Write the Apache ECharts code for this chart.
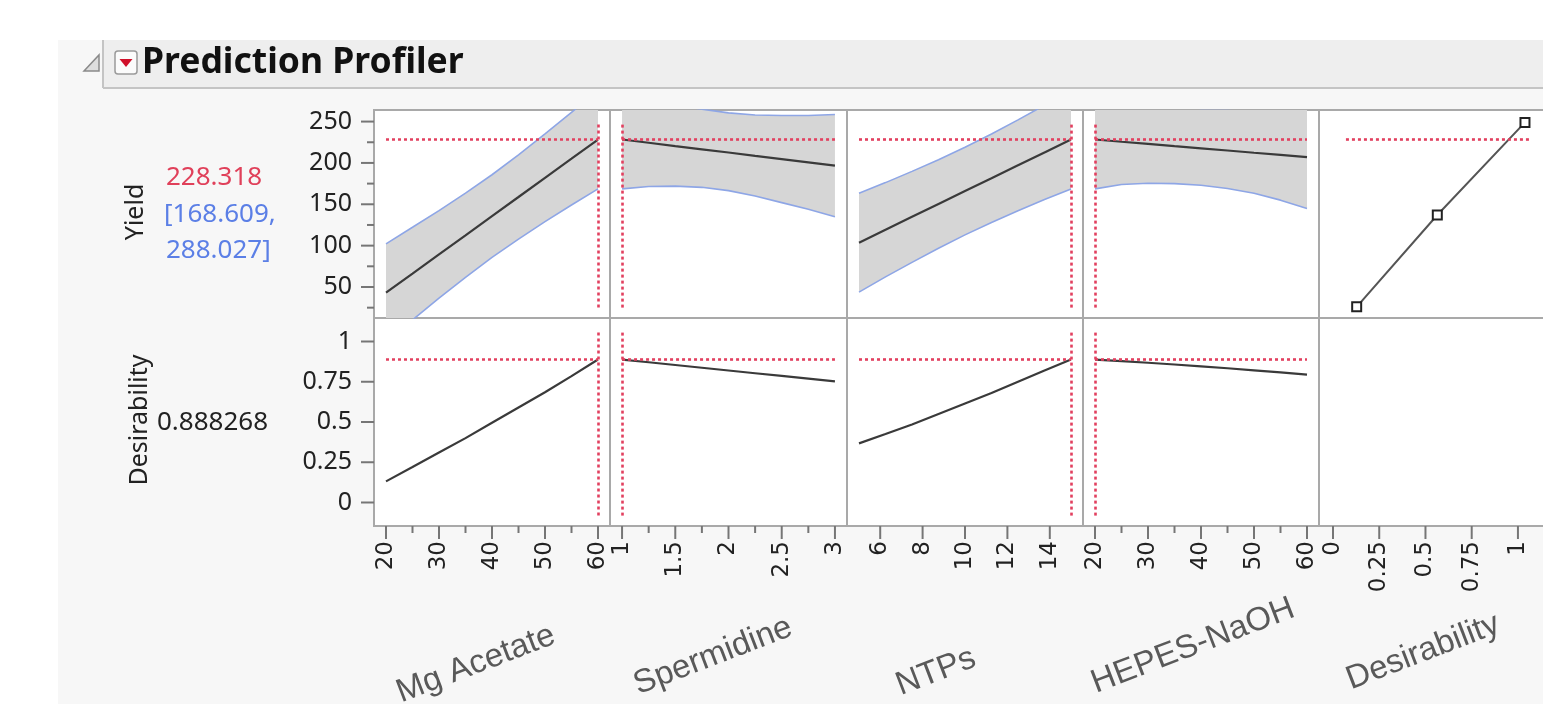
<!DOCTYPE html>
<html>
<head>
<meta charset="utf-8">
<script src="https://cdn.jsdelivr.net/npm/echarts@6/dist/echarts.min.js"></script>
<style>
html, body { margin: 0; padding: 0; background: #fff; overflow: hidden; }
#bg { position: absolute; left: 58px; top: 40px; width: 1485px; height: 664px; background: #f7f7f7; }
#chart { position: absolute; left: 0; top: 0; width: 1570px; height: 704px; }
</style>
</head>
<body>
<div id="bg"></div>
<div id="chart"></div>
<script>
// current point of the profiler
const curYield = 228.318
const curLow = 168.609
const curHigh = 288.027
const curDesir = 0.888268

// Mg Acetate
const mgX = [20, 25, 30, 35, 40, 45, 50, 55, 60]
const mgYield = [43.1, 66.2, 89.4, 112.5, 135.7, 158.8, 182.0, 205.1, 228.3]
const mgLower = [-15.9, 10.2, 36.4, 61.5, 85.7, 107.8, 129.0, 149.1, 168.6]
const mgUpper = [102.1, 122.2, 142.4, 163.5, 185.7, 209.8, 235.0, 261.1, 288.0]
const mgDesir = [0.131, 0.22, 0.31, 0.40, 0.495, 0.59, 0.685, 0.785, 0.888]
const mgTicks = [20, 30, 40, 50, 60]
const mgMinor = [25, 35, 45, 55]

// Spermidine
const spX = [1, 1.25, 1.5, 1.75, 2, 2.25, 2.5, 2.75, 3]
const spYield = [228.3, 224.4, 220.4, 216.5, 212.6, 208.6, 204.7, 200.7, 196.8]
const spLower = [168.6, 171.5, 172, 170.5, 166.5, 160, 152, 144, 135]
const spUpper = [288.0, 277.3, 270.0, 265.0, 260.5, 258.0, 257.4, 257.4, 258.6]
const spDesir = [0.888, 0.871, 0.854, 0.837, 0.820, 0.803, 0.786, 0.769, 0.752]
const spTicks = [1, 1.5, 2, 2.5, 3]
const spMinor = [1.25, 1.75, 2.25, 2.75]

// NTPs
const ntX = [5, 6.25, 7.5, 8.75, 10, 11.25, 12.5, 13.75, 15]
const ntYield = [103.6, 119.2, 134.8, 150.4, 166.0, 181.5, 197.1, 212.7, 228.3]
const ntLower = [43.8, 62.2, 79.8, 96.9, 113.0, 128.0, 142.1, 155.7, 168.6]
const ntUpper = [163.4, 176.2, 189.8, 203.9, 219.0, 235.0, 252.1, 269.7, 288.0]
const ntDesir = [0.367, 0.425, 0.485, 0.55, 0.615, 0.68, 0.75, 0.82, 0.888]
const ntTicks = [6, 8, 10, 12, 14]
const ntMinor = []

// HEPES-NaOH
const hpX = [20, 25, 30, 35, 40, 45, 50, 55, 60]
const hpYield = [228.3, 225.6, 223.0, 220.3, 217.7, 215.0, 212.3, 209.7, 207.0]
const hpLower = [168.6, 174, 175.5, 175, 173, 169, 163.4, 155, 145]
const hpUpper = [288.0, 278, 272, 268, 266, 266, 267, 269, 272]
const hpDesir = [0.888, 0.878, 0.868, 0.857, 0.846, 0.834, 0.821, 0.808, 0.794]
const hpTicks = [20, 30, 40, 50, 60]
const hpMinor = [25, 35, 45, 55]

// desirability function for Yield
const desX = [0.128, 0.564, 1.038]
const desYield = [26, 137, 249]
const desTicks = [0, 0.25, 0.5, 0.75, 1]
const desRefX = [0.07, 1.06]

// response axes
const yieldRange = [12.5, 264]
const yieldTicks = [50, 100, 150, 200, 250]
const yieldMinor = [25, 75, 125, 175, 225]
const dRange = [-0.146, 1.146]
const dTicks = [0, 0.25, 0.5, 0.75, 1]

const factors = [
    { name: 'Mg Acetate', x: mgX, pred: mgYield, lo: mgLower, hi: mgUpper, d: mgDesir, cur: 60, ticks: mgTicks, minor: mgMinor },
    { name: 'Spermidine', x: spX, pred: spYield, lo: spLower, hi: spUpper, d: spDesir, cur: 1, ticks: spTicks, minor: spMinor },
    { name: 'NTPs', x: ntX, pred: ntYield, lo: ntLower, hi: ntUpper, d: ntDesir, cur: 15, ticks: ntTicks, minor: ntMinor },
    { name: 'HEPES-NaOH', x: hpX, pred: hpYield, lo: hpLower, hi: hpUpper, d: hpDesir, cur: 20, ticks: hpTicks, minor: hpMinor },
]

const colLeft = [374, 610, 847, 1083, 1319]
const colWidth = [236, 237, 236, 236, 240]
const rowTop = [110, 318]
const rowHeight = 208

const frameColor = '#a9a9a9'
const tickColor = '#767676'
const refLine = { color: '#e2405f', type: [3, 3], width: 2.6, cap: 'butt' }
const zip = (a, b) => a.map((v, i) => [v, b[i]])

// x range with the same margin JMP leaves on each side
const padRange = (arr) => {
    const lo = Math.min(...arr), hi = Math.max(...arr)
    const p = (hi - lo) * 12 / 212
    return [lo - p, hi + p]
}
const xRanges = factors.map(f => padRange(f.x))
xRanges.push([-0.0757, 1.222])
const xTicks = factors.map(f => f.ticks).concat([desTicks])
const xMinor = factors.map(f => f.minor).concat([[]])

const grid = []
const xAxis = []
const yAxis = []
for (let r = 0; r < 2; r++) {
    for (let c = 0; c < 5; c++) {
        const g = r * 5 + c
        grid.push({
            left: colLeft[c], top: rowTop[r], width: colWidth[c], height: rowHeight,
            show: true, backgroundColor: '#fff', borderColor: frameColor, borderWidth: 2
        })
        xAxis.push({
            type: 'value', gridIndex: g, position: 'bottom', min: xRanges[c][0], max: xRanges[c][1],
            show: r === 1, splitLine: { show: false }, axisLine: { show: false, onZero: false }, axisTick: { show: false },
            axisLabel: {
                show: true, customValues: xTicks[c], rotate: 90, margin: 15,
                fontFamily: 'DejaVu Sans', fontSize: 23, color: '#222'
            }
        })
        const yr = r === 0 ? yieldRange : dRange
        const yt = r === 0 ? yieldTicks : dTicks
        yAxis.push({
            type: 'value', gridIndex: g, position: 'left', min: yr[0], max: yr[1],
            show: c === 0, splitLine: { show: false }, axisLine: { show: false, onZero: false }, axisTick: { show: false },
            axisLabel: {
                show: true, customValues: yt, margin: 22,
                fontFamily: 'Noto Sans', fontSize: 25, color: '#222'
            }
        })
    }
}

const yieldSpan = [yieldRange[0] + (yieldRange[1] - yieldRange[0]) * 0.05, yieldRange[1] - (yieldRange[1] - yieldRange[0]) * 0.06]
const dSpan = [dRange[0] + (dRange[1] - dRange[0]) * 0.05, dRange[1] - (dRange[1] - dRange[0]) * 0.065]

// tick marks just outside the panel frames, as scatter marks on the axes' own scale
const tickMarks = (g, values, len, dir) => ({
    type: 'scatter', xAxisIndex: g, yAxisIndex: g, clip: false, silent: true, z: 10,
    data: values.map(v => dir === 'x' ? [v, yAxis[g].min] : [xAxis[g].min, v]),
    symbol: 'rect',
    symbolSize: dir === 'x' ? [2, len] : [len, 2],
    symbolOffset: dir === 'x' ? [0, len / 2] : [-len / 2, 0],
    itemStyle: { color: tickColor, opacity: 1 }
})

const series = []
series.push(tickMarks(0, yieldTicks, 13, 'y'))
series.push(tickMarks(0, yieldMinor, 7, 'y'))
series.push(tickMarks(5, dTicks, 13, 'y'))
for (let c = 0; c < 5; c++) {
    series.push(tickMarks(5 + c, xTicks[c], 13, 'x'))
    if (xMinor[c].length) series.push(tickMarks(5 + c, xMinor[c], 7, 'x'))
}

factors.forEach((f, c) => {
    const xmin = Math.min(...f.x), xmax = Math.max(...f.x)
    // confidence band, drawn as one polygon through the axis scales
    series.push({
        type: 'custom', xAxisIndex: c, yAxisIndex: c, data: [[xmin, f.lo[0]]], silent: true, clip: true, z: 1,
        renderItem: (params, api) => {
            const top = f.x.map((x, i) => api.coord([x, f.hi[i]]))
            const bot = f.x.map((x, i) => api.coord([x, f.lo[i]])).reverse()
            const cs = params.coordSys
            return {
                type: 'group',
                clipPath: { type: 'rect', shape: { x: cs.x, y: cs.y, width: cs.width, height: cs.height } },
                children: [{ type: 'polygon', shape: { points: top.concat(bot) }, style: { fill: '#d6d6d6' } }]
            }
        }
    })
    series.push({
        type: 'line', xAxisIndex: c, yAxisIndex: c, data: zip(f.x, f.hi), symbol: 'none', z: 2,
        lineStyle: { color: '#8ea6e6', width: 1.6 }, silent: true
    })
    series.push({
        type: 'line', xAxisIndex: c, yAxisIndex: c, data: zip(f.x, f.lo), symbol: 'none', z: 2,
        lineStyle: { color: '#8ea6e6', width: 1.6 }, silent: true
    })
    // predicted yield
    series.push({
        type: 'line', xAxisIndex: c, yAxisIndex: c, data: zip(f.x, f.pred), symbol: 'none',
        lineStyle: { color: '#3a3a3a', width: 2.2 }, silent: true, z: 3,
        markLine: {
            silent: true, symbol: 'none', animation: false, label: { show: false }, lineStyle: refLine,
            data: [
                [{ coord: [xmin, curYield] }, { coord: [xmax, curYield] }],
                [{ coord: [f.cur, yieldSpan[0]] }, { coord: [f.cur, yieldSpan[1]] }]
            ]
        }
    })
    // desirability trace
    series.push({
        type: 'line', xAxisIndex: 5 + c, yAxisIndex: 5 + c, data: zip(f.x, f.d), symbol: 'none',
        lineStyle: { color: '#3a3a3a', width: 2.2 }, silent: true, z: 3,
        markLine: {
            silent: true, symbol: 'none', animation: false, label: { show: false }, lineStyle: refLine,
            data: [
                [{ coord: [xmin, curDesir] }, { coord: [xmax, curDesir] }],
                [{ coord: [f.cur, dSpan[0]] }, { coord: [f.cur, dSpan[1]] }]
            ]
        }
    })
})
// desirability function panel
series.push({
    type: 'line', xAxisIndex: 4, yAxisIndex: 4, data: zip(desX, desYield),
    symbol: 'rect', symbolSize: 9, showAllSymbol: true, silent: true, z: 3,
    itemStyle: { color: '#fff', borderColor: '#222', borderWidth: 2 },
    lineStyle: { color: '#555', width: 2 },
    markLine: {
        silent: true, symbol: 'none', animation: false, label: { show: false }, lineStyle: refLine,
        data: [[{ coord: [desRefX[0], curYield] }, { coord: [desRefX[1], curYield] }]]
    }
})

const deg = Math.PI / 180
const nameFont = '33px "Liberation Sans"'
const graphic = [
    // header bar
    { type: 'rect', shape: { x: 103, y: 40, width: 1470, height: 48 }, style: { fill: '#eeeeee' }, silent: true },
    { type: 'line', shape: { x1: 103, y1: 40, x2: 103, y2: 88 }, style: { stroke: '#c4c4c4', lineWidth: 2 } },
    { type: 'line', shape: { x1: 103, y1: 88, x2: 1573, y2: 88 }, style: { stroke: '#c4c4c4', lineWidth: 2 } },
    { type: 'polygon', shape: { points: [[84, 71], [99, 71], [99, 55]] }, style: { fill: '#dedede', stroke: '#8a8a8a', lineWidth: 1.5 } },
    { type: 'rect', shape: { x: 115, y: 51, width: 22, height: 23, r: 3 }, style: { fill: '#fbfbfb', stroke: '#9a9a9a', lineWidth: 1.5 } },
    { type: 'polygon', shape: { points: [[119.5, 59], [132.5, 59], [126, 67]] }, style: { fill: '#d0102a' } },
    { type: 'text', x: 142, y: 63, style: { text: 'Prediction Profiler', font: 'bold 35.5px "Noto Sans"', fill: '#111', textVerticalAlign: 'middle' } },
    // response labels
    { type: 'text', x: 136, y: 212, rotation: 90 * deg, style: { text: 'Yield', font: '25px "Noto Sans"', fill: '#222', textAlign: 'center', textVerticalAlign: 'middle' } },
    { type: 'text', x: 166, y: 178, style: { text: curYield.toFixed(3), font: '26px "Noto Sans"', fill: '#e0405a', textVerticalAlign: 'middle' } },
    { type: 'text', x: 164, y: 215, style: { text: '[' + curLow.toFixed(3) + ',', font: '26px "Noto Sans"', fill: '#5b7fe6', textVerticalAlign: 'middle' } },
    { type: 'text', x: 166, y: 251, style: { text: curHigh.toFixed(3) + ']', font: '26px "Noto Sans"', fill: '#5b7fe6', textVerticalAlign: 'middle' } },
    { type: 'text', x: 140, y: 420, rotation: 90 * deg, style: { text: 'Desirability', font: '25px "Noto Sans"', fill: '#222', textAlign: 'center', textVerticalAlign: 'middle' } },
    { type: 'text', x: 157, y: 423, style: { text: curDesir.toFixed(6), font: '26px "Noto Sans"', fill: '#222', textVerticalAlign: 'middle' } },
]
// factor names under the axes
const namePos = [[476, 664], [713, 656], [936, 672], [1193, 646], [1423, 652]]
factors.map(f => f.name).concat(['Desirability']).forEach((n, i) => {
    graphic.push({
        type: 'text', x: namePos[i][0], y: namePos[i][1], rotation: 21 * deg,
        style: { text: n, font: nameFont, fill: '#595959', textAlign: 'center', textVerticalAlign: 'middle' }
    })
})

const chart = echarts.init(document.getElementById('chart'))
chart.setOption({
    animation: false,
    grid: grid,
    xAxis: xAxis,
    yAxis: yAxis,
    series: series,
    graphic: graphic
})
</script>
</body>
</html>
